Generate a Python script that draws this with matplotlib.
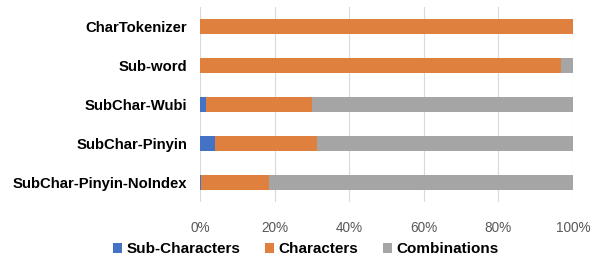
import matplotlib
matplotlib.use('Agg')
import matplotlib.pyplot as plt
from matplotlib.ticker import PercentFormatter

plt.rcParams['font.family'] = ['Liberation Sans', 'DejaVu Sans']

METHODS = ['CharTokenizer', 'Sub-word', 'SubChar-Wubi', 'SubChar-Pinyin', 'SubChar-Pinyin-NoIndex']
SUB_CHARS = [0.0, 0.0, 1.5, 4.0, 0.4]
CHARS = [100.0, 96.8, 28.6, 27.5, 18.2]
COMBOS = [0.0, 3.2, 69.9, 68.5, 81.4]
SERIES = ['Sub-Characters', 'Characters', 'Combinations']
COLORS = ['#4472C4', '#E0803F', '#A5A5A5']

fig = plt.figure(figsize=(6.0, 2.57), dpi=100)
ax = fig.add_axes([200 / 600, 55 / 257, 373 / 600, 195 / 257])

ypos = list(range(len(METHODS)))[::-1]
left = [0.0] * len(METHODS)
for name, vals, c in zip(SERIES, [SUB_CHARS, CHARS, COMBOS], COLORS):
    ax.barh(ypos, vals, left=left, height=0.41, color=c, label=name, zorder=3)
    left = [l + v for l, v in zip(left, vals)]

ax.set_xlim(0, 100)
ax.set_ylim(-0.5, len(METHODS) - 0.5)
ax.set_xticks([0, 20, 40, 60, 80, 100])
ax.xaxis.set_major_formatter(PercentFormatter(decimals=0))
ax.set_yticks(ypos)
ax.set_yticklabels(METHODS, fontweight='bold', fontsize=10.7)
ax.tick_params(axis='y', length=0, pad=9)
ax.tick_params(axis='x', length=0, labelsize=9.8, labelcolor='#595959', pad=14)
ax.grid(axis='x', color='#D9D9D9', lw=0.8, zorder=0)
for s in ax.spines.values():
    s.set_visible(False)

fig.legend(loc='lower center', bbox_to_anchor=(0.51, -0.05), ncol=3, frameon=False,
           prop={'weight': 'bold', 'size': 11}, handlelength=0.6, handleheight=0.6,
           handletextpad=0.3, columnspacing=1.6)

fig.savefig('out.png', dpi=100)
